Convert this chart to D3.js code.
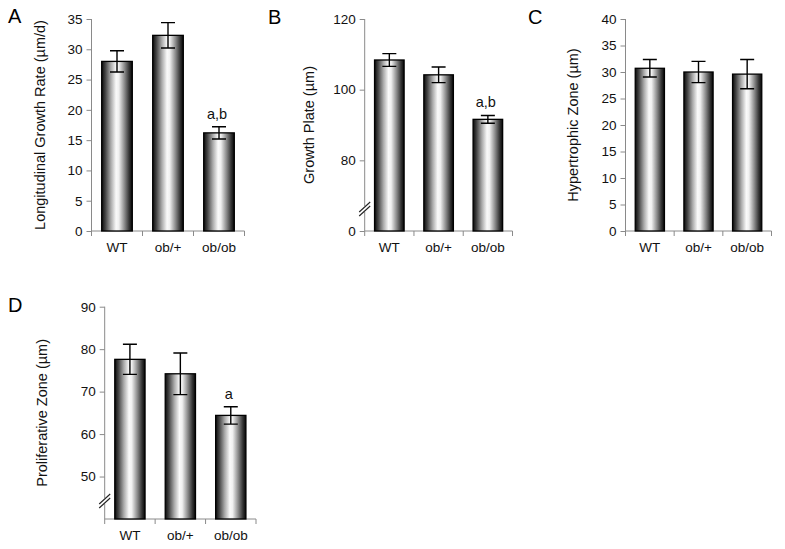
<!DOCTYPE html>
<html><head><meta charset="utf-8">
<script src="https://cdn.jsdelivr.net/npm/d3@7"></script>
<style>body{margin:0;background:#fff} svg{display:block}</style>
</head><body>
<svg id="chart" width="785" height="549"></svg>
<script>
// ---- data ----
const categories = ["WT", "ob/+", "ob/ob"];

const growthRate = [28.0, 32.3, 16.2];
const growthRateErr = [1.75, 2.1, 1.0];
const growthRateTicks = [0, 5, 10, 15, 20, 25, 30, 35];
const growthRateTickLabels = ["0", "5", "10", "15", "20", "25", "30", "35"];
const growthRateNotes = ["", "", "a,b"];

const growthPlate = [108.4, 104.2, 91.6];
const growthPlateErr = [1.8, 2.2, 1.1];
const growthPlateTicks = [60, 80, 100, 120];
const growthPlateTickLabels = ["0", "80", "100", "120"];
const growthPlateNotes = ["", "", "a,b"];

const hypertrophic = [30.7, 30.0, 29.6];
const hypertrophicErr = [1.65, 2.0, 2.75];
const hypertrophicTicks = [0, 5, 10, 15, 20, 25, 30, 35, 40];
const hypertrophicTickLabels = ["0", "5", "10", "15", "20", "25", "30", "35", "40"];
const hypertrophicNotes = ["", "", ""];

const proliferative = [77.6, 74.2, 64.4];
const proliferativeErr = [3.55, 4.9, 2.05];
const proliferativeTicks = [50, 60, 70, 80, 90];
const proliferativeTickLabels = ["50", "60", "70", "80", "90"];
const proliferativeNotes = ["", "", "a"];

// ---- layout ----
const panels = [
  {letter: "A", lx: 8, ly: 23, x: [91.5, 244.5], y: [231, 19], domain: [0, 35],
   title: "Longitudinal Growth Rate (\u00b5m/d)", tx: 40,
   values: growthRate, errs: growthRateErr, ticks: growthRateTicks, tickLabels: growthRateTickLabels, notes: growthRateNotes},
  {letter: "B", lx: 268, ly: 24, x: [364.7, 512.5], y: [231, 19], domain: [60, 120],
   title: "Growth Plate (\u00b5m)", tx: 309, breakY: 209,
   values: growthPlate, errs: growthPlateErr, ticks: growthPlateTicks, tickLabels: growthPlateTickLabels, notes: growthPlateNotes},
  {letter: "C", lx: 528, ly: 24, x: [625.5, 771.5], y: [231, 19], domain: [0, 40],
   title: "Hypertrophic Zone (\u00b5m)", tx: 573,
   values: hypertrophic, errs: hypertrophicErr, ticks: hypertrophicTicks, tickLabels: hypertrophicTickLabels, notes: hypertrophicNotes},
  {letter: "D", lx: 8, ly: 312, x: [104.7, 256], y: [519, 306.7], domain: [40, 90],
   title: "Proliferative Zone (\u00b5m)", tx: 42, breakY: 501,
   values: proliferative, errs: proliferativeErr, ticks: proliferativeTicks, tickLabels: proliferativeTickLabels, notes: proliferativeNotes}
];

const svg = d3.select("#chart");
const font = "Liberation Sans, Arial, Helvetica, sans-serif";
const axisColor = "#8a8a8a";

const defs = svg.append("defs");
const grad = defs.append("linearGradient").attr("id", "barGrad")
  .attr("x1", "0").attr("x2", "1").attr("y1", "0").attr("y2", "0");
[[0, "#0a0a0a"], [0.12, "#444"], [0.3, "#aaa"], [0.47, "#fafafa"], [0.56, "#f0f0f0"],
 [0.75, "#888"], [0.9, "#333"], [1, "#050505"]].forEach(([o, c]) =>
  grad.append("stop").attr("offset", o).attr("stop-color", c));

panels.forEach(p => {
  const g = svg.append("g");
  const xs = d3.scaleBand().domain(categories).range(p.x).paddingInner(0.4).paddingOuter(0.2);
  const ys = d3.scaleLinear().domain(p.domain).range(p.y);
  const ax = p.x[0], y0 = p.y[0];

  // y axis
  const yAxis = d3.axisLeft(ys).tickValues(p.ticks).tickSize(5).tickPadding(4)
    .tickFormat((d, i) => p.tickLabels[i]);
  const ya = g.append("g").attr("transform", `translate(${ax},0)`).call(yAxis);
  ya.select(".domain").attr("stroke", axisColor).attr("d", `M0,${p.y[0]}V${p.y[1]}`);
  ya.selectAll(".tick line").attr("stroke", axisColor);
  ya.selectAll(".tick text").attr("fill", "#111").style("font-family", font).style("font-size", "13.5px");

  // x axis
  const xAxis = d3.axisBottom(xs).tickSize(0).tickPadding(11);
  const xa = g.append("g").attr("transform", `translate(0,${y0})`).call(xAxis);
  xa.select(".domain").attr("stroke", axisColor).attr("d", `M${p.x[0]},0H${p.x[1]}`);
  xa.selectAll(".tick text").attr("fill", "#111").style("font-family", font).style("font-size", "13.5px");
  const step = xs.step();
  const bounds = d3.range(categories.length + 1).map(i => p.x[0] + i * step);
  xa.selectAll(".bound").data(bounds).enter().append("line")
    .attr("x1", d => d).attr("x2", d => d).attr("y1", 0).attr("y2", 5)
    .attr("stroke", axisColor);

  // bars
  g.selectAll(".bar").data(categories).enter().append("rect")
    .attr("x", c => xs(c)).attr("width", xs.bandwidth())
    .attr("y", (c, i) => ys(p.values[i]))
    .attr("height", (c, i) => y0 - ys(p.values[i]))
    .attr("fill", "url(#barGrad)").attr("stroke", "#000").attr("stroke-width", 1.3);

  // error bars
  const cap = 7;
  categories.forEach((c, i) => {
    const cx = xs(c) + xs.bandwidth() / 2;
    const hi = ys(p.values[i] + p.errs[i]), lo = ys(p.values[i] - p.errs[i]);
    g.append("path")
      .attr("d", `M${cx},${hi}V${lo}M${cx - cap},${hi}H${cx + cap}M${cx - cap},${lo}H${cx + cap}`)
      .attr("stroke", "#000").attr("stroke-width", 1.4).attr("fill", "none");
    if (p.notes[i]) {
      g.append("text").attr("x", cx - 2).attr("y", hi - 8)
        .attr("text-anchor", "middle").style("font-family", font).style("font-size", "14.5px")
        .attr("fill", "#111").text(p.notes[i]);
    }
  });

  // axis break
  if (p.breakY) {
    const by = p.breakY;
    g.append("rect").attr("x", ax - 2).attr("y", by - 3).attr("width", 4).attr("height", 6).attr("fill", "#fff");
    [-2, 2].forEach(o => {
      g.append("line").attr("x1", ax - 5.5).attr("y1", by + 5 + o)
        .attr("x2", ax + 5.5).attr("y2", by - 5 + o)
        .attr("stroke", "#222").attr("stroke-width", 1.1);
    });
  }

  // axis title
  const cy = (p.y[0] + p.y[1]) / 2;
  g.append("text").attr("transform", `translate(${p.tx},${cy}) rotate(-90)`)
    .attr("text-anchor", "middle").attr("dy", "0.35em")
    .style("font-family", font).style("font-size", "14.5px").attr("fill", "#111")
    .text(p.title);

  // panel letter
  g.append("text").attr("x", p.lx).attr("y", p.ly)
    .style("font-family", font).style("font-size", "20px").attr("fill", "#000")
    .text(p.letter);
});
</script>
</body></html>
